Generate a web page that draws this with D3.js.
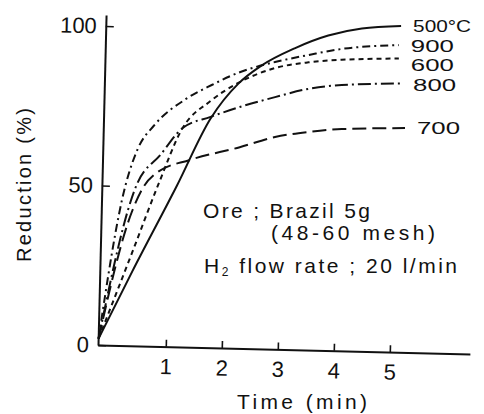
<!DOCTYPE html>
<html>
<head>
<meta charset="utf-8">
<script src="https://cdn.jsdelivr.net/npm/d3@7/dist/d3.min.js"></script>
<style>
  html, body { margin: 0; padding: 0; background: #fff; }
  svg text { font-family: "Liberation Sans", Arial, sans-serif; fill: #111; }
</style>
</head>
<body>
<svg id="chart" width="484" height="414"></svg>
<script>
// Reduction of Brazil ore (5 g, 48-60 mesh) in H2, by furnace temperature.
// Time in minutes, reduction in percent.
const seriesKeys   = ["500", "900", "600", "800", "700"];
const seriesLabels = ["500°C", "900", "600", "800", "700"];

const time500 = [-0.2, 0.4, 1.2, 1.8, 2.3, 2.7, 3.3, 3.9, 4.5, 5.2];
const red500  = [2, 23, 50, 71, 82, 87.5, 93, 97, 99.2, 100];

const time900 = [-0.2, 0.28, 0.5, 0.8, 1.35, 1.82, 2.32, 2.95, 3.55, 4.14, 5.16];
const red900  = [2, 50, 61.5, 69, 77, 81.5, 85.5, 88.7, 90.9, 92.8, 94];

const time600 = [-0.2, 0.4, 0.86, 1.3, 1.8, 2.32, 2.95, 3.55, 4.14, 5.16];
const red600  = [2, 29, 50, 68, 76.5, 82.4, 86.8, 88.6, 89.4, 89.8];

const time800 = [-0.2, 0.5, 0.9, 1.3, 1.8, 2.32, 2.95, 3.55, 4.14, 5.2];
const red800  = [2, 51, 59.5, 68, 71.5, 74.6, 77.7, 80.3, 81.5, 82];

const time700 = [-0.2, 0.4, 0.6, 0.84, 1.43, 2.32, 2.95, 3.55, 4.14, 5.27];
const red700  = [2, 42, 49.5, 54, 58, 62, 65.2, 66.8, 67.7, 68];

const xTicks = [1, 2, 3, 4, 5];
const yTicks = [0, 50, 100];

const seriesData = {
  "500": d3.zip(time500, red500),
  "900": d3.zip(time900, red900),
  "600": d3.zip(time600, red600),
  "800": d3.zip(time800, red800),
  "700": d3.zip(time700, red700)
};

// line styles per temperature
const dashes = {
  "500": null,
  "900": "8,4,2,4",
  "600": "5,4",
  "800": "13,4,2,4",
  "700": "14,6"
};

const svg = d3.select("#chart");

const x = d3.scaleLinear().domain([-0.21, 6.43]).range([98, 470]);
const y = d3.scaleLinear().domain([0, 103.5]).range([345, 14.8]);

const ox = x(x.domain()[0]);
const oy = y(0);

// axes (the frame is drawn slightly tilted)
const axes = svg.append("g").attr("transform", `rotate(1.4, ${ox}, ${oy})`);

const xAxis = axes.append("g")
  .attr("transform", `translate(0, ${oy})`)
  .call(d3.axisBottom(x).tickValues(xTicks).tickFormat(d3.format("d"))
    .tickSize(-7).tickSizeOuter(0).tickPadding(12));

const yAxis = axes.append("g")
  .attr("transform", `translate(${ox}, 0)`)
  .call(d3.axisLeft(y).tickValues(yTicks).tickFormat(d3.format("d"))
    .tickSize(-8).tickSizeOuter(0).tickPadding(9));

[xAxis, yAxis].forEach(a => {
  a.select(".domain").attr("stroke", "#111").attr("stroke-width", 2);
  a.selectAll(".tick line").attr("stroke", "#111").attr("stroke-width", 1.6);
  a.selectAll(".tick text").attr("font-size", 22).attr("fill", "#111")
    .attr("font-family", "Liberation Sans, Arial, sans-serif");
});

// curves
const line = d3.line()
  .x(d => x(d[0]))
  .y(d => y(d[1]))
  .curve(d3.curveMonotoneX);

const curves = svg.append("g");
const endLabels = [];
seriesKeys.forEach((k, i) => {
  const pts = seriesData[k];
  curves.append("path")
    .datum(pts)
    .attr("d", line)
    .attr("fill", "none")
    .attr("stroke", "#111")
    .attr("stroke-width", 2)
    .attr("stroke-dasharray", dashes[k]);
  const last = pts[pts.length - 1];
  endLabels.push({ text: seriesLabels[i], x: x(last[0]) + 12, y: y(last[1]) });
});

// end labels, stacked top-down with a minimum spacing
endLabels.sort((a, b) => a.y - b.y);
const minGap = 19.5;
endLabels.forEach((d, i) => {
  if (i > 0 && d.y - endLabels[i - 1].y < minGap) d.y = endLabels[i - 1].y + minGap;
});
curves.selectAll("text.end")
  .data(endLabels)
  .join("text")
  .attr("class", "end")
  .attr("x", d => d.x)
  .attr("y", d => d.y)
  .attr("dy", "0.36em")
  .attr("font-size", 17)
  .attr("textLength", d => d.text.length > 3 ? 58 : 43)
  .attr("lengthAdjust", "spacingAndGlyphs")
  .text(d => d.text);

// axis titles
svg.append("text")
  .attr("transform", "translate(31, 185) rotate(-90)")
  .attr("text-anchor", "middle")
  .attr("font-size", 20)
  .attr("textLength", 154)
  .attr("lengthAdjust", "spacing")
  .text("Reduction (%)");

svg.append("text")
  .attr("x", 237).attr("y", 409)
  .attr("font-size", 21)
  .attr("textLength", 130)
  .attr("lengthAdjust", "spacing")
  .text("Time (min)");

// experimental conditions
const notes = svg.append("g").attr("font-size", 21);
notes.append("text")
  .attr("x", 203).attr("y", 218)
  .attr("textLength", 167).attr("lengthAdjust", "spacing")
  .text("Ore ; Brazil 5g");
notes.append("text")
  .attr("x", 271).attr("y", 240)
  .attr("textLength", 164).attr("lengthAdjust", "spacing")
  .text("(48-60 mesh)");
const h2 = notes.append("text")
  .attr("x", 204).attr("y", 273)
  .attr("textLength", 253).attr("lengthAdjust", "spacing");
h2.append("tspan").text("H");
h2.append("tspan").attr("font-size", 12).attr("dy", 3).text("2");
h2.append("tspan").attr("dy", -3).text(" flow rate ; 20 l/min");
</script>
</body>
</html>
